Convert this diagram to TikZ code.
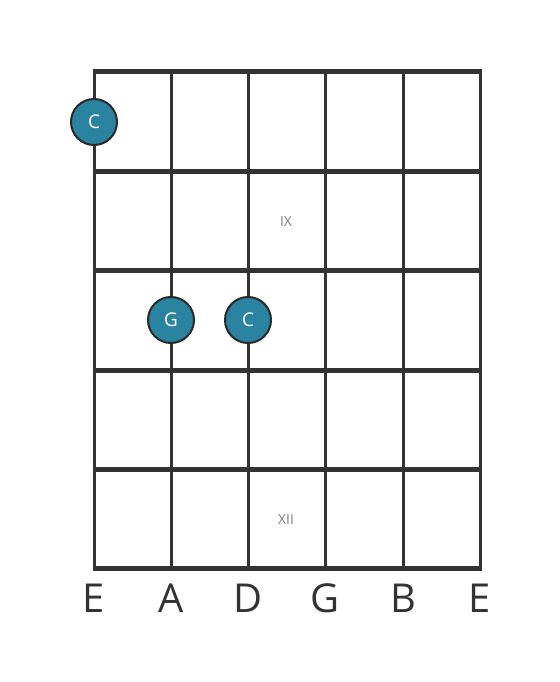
\documentclass[tikz,border=0pt]{standalone}
\usepackage{fontspec}
\setmainfont{Open Sans}
\definecolor{gridc}{HTML}{333333}
\definecolor{dotc}{HTML}{2A83A0}
\definecolor{fretlab}{HTML}{808080}
\begin{document}
\begin{tikzpicture}[x=1bp,y=-1bp,
  stringline/.style={draw=gridc,line width=3bp},
  fretline/.style={draw=gridc,line width=5bp},
  notedot/.style={circle,fill=dotc,draw=gridc!80!black,line width=2bp,minimum size=46bp,inner sep=0pt,text=white,font=\fontsize{19}{19}\selectfont},
  fretnum/.style={text=fretlab,font=\fontsize{14}{14}\selectfont},
  strlab/.style={text=gridc,anchor=base,inner sep=0pt,font=\fontsize{40}{40}\selectfont}]
\useasboundingbox (0,0) rectangle (560,682);
\fill[white] (0,0) rectangle (560,682);
\foreach \i/\x in {1/94,2/171,3/248,4/325,5/403,6/480}{
  \coordinate (s\i t) at (\x,72);
  \coordinate (s\i b) at (\x,568);
  \draw[stringline] (s\i t) -- (s\i b);
}
\foreach \j/\y in {0/72,1/171,2/270,3/370,4/469,5/568}{
  \coordinate (f\j l) at (92.5,\y);
  \coordinate (f\j r) at (481.5,\y);
  \draw[fretline] (f\j l) -- (f\j r);
}
\node[fretnum] (ix) at (286,222) {IX};
\node[fretnum] (xii) at (286,520) {XII};
\node[notedot] (n1) at (94,122) {C};
\node[notedot] (n2) at (171,320) {G};
\node[notedot] (n3) at (248,320) {C};
\foreach \i/\x/\t in {1/94/E,2/171/A,3/248/D,4/325/G,5/403/B,6/480/E}{
  \node[strlab] (l\i) at (\x,612) {\t};
}
\end{tikzpicture}
\end{document}
